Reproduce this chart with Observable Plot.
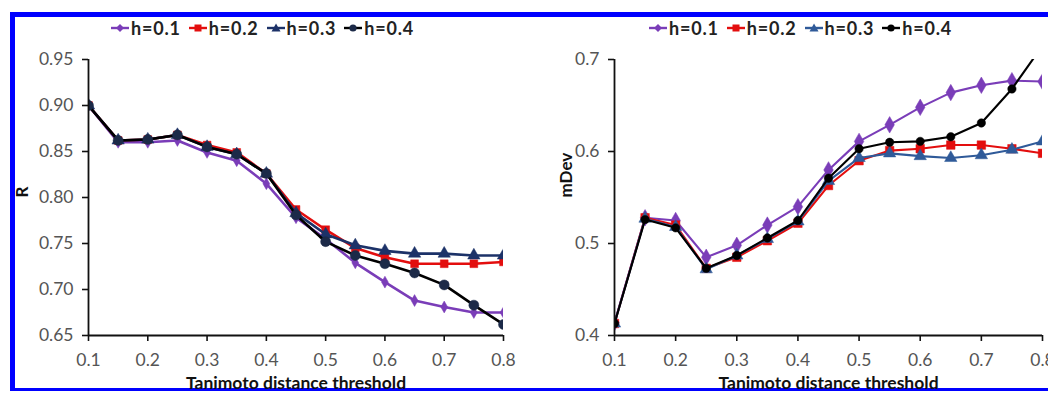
<!DOCTYPE html>
<html>
<head>
<meta charset="utf-8">
<script src="https://cdn.jsdelivr.net/npm/d3@7"></script>
<script src="https://cdn.jsdelivr.net/npm/@observablehq/plot@0.6"></script>
<style>
  html, body { margin:0; padding:0; background:#fff; }
  body { width:1048px; height:394px; overflow:hidden; position:relative; font-family: Lato, "Open Sans", sans-serif; }
  .frame { position:absolute; left:10px; top:12px; width:1100px; height:379px; border-left:5px solid #0000ff; border-top:5px solid #0000ff; border-bottom:3px solid #0000ff; box-sizing:border-box; }
  .panel { position:absolute; top:40px; }
  .panel svg { max-width:none !important; }
  .legend { position:absolute; top:17px; display:flex; align-items:center; font-weight:bold; font-size:18px; letter-spacing:0.8px; color:#222; white-space:nowrap; }
  .legend .item { display:flex; align-items:center; margin-right:8px; }
  .legend svg { margin-right:2px; }
</style>
</head>
<body>
<div class="frame"></div>
<div id="legL" class="legend" style="left:111px"></div>
<div id="legR" class="legend" style="left:649px"></div>
<div id="left" class="panel" style="left:0px"></div>
<div id="right" class="panel" style="left:524px"></div>
<script>
// ---- data ----
const thresholds = [0.1, 0.15, 0.2, 0.25, 0.3, 0.35, 0.4, 0.45, 0.5, 0.55, 0.6, 0.65, 0.7, 0.75, 0.8];
const seriesNames = ["h=0.1", "h=0.2", "h=0.3", "h=0.4"];

const R_h01 = [0.900, 0.860, 0.860, 0.862, 0.849, 0.840, 0.815, 0.778, 0.755, 0.729, 0.708, 0.688, 0.681, 0.675, 0.675];
const R_h02 = [0.900, 0.862, 0.863, 0.868, 0.857, 0.849, 0.826, 0.787, 0.765, 0.745, 0.735, 0.728, 0.728, 0.728, 0.730];
const R_h03 = [0.900, 0.862, 0.863, 0.868, 0.855, 0.847, 0.826, 0.783, 0.760, 0.748, 0.742, 0.739, 0.739, 0.737, 0.737];
const R_h04 = [0.900, 0.862, 0.863, 0.868, 0.855, 0.847, 0.826, 0.781, 0.752, 0.737, 0.728, 0.718, 0.705, 0.683, 0.662];

const mDev_h01 = [0.414, 0.528, 0.525, 0.485, 0.498, 0.520, 0.540, 0.580, 0.611, 0.629, 0.648, 0.664, 0.672, 0.677, 0.676];
const mDev_h02 = [0.413, 0.528, 0.520, 0.473, 0.485, 0.503, 0.522, 0.563, 0.590, 0.601, 0.603, 0.607, 0.607, 0.603, 0.598];
const mDev_h03 = [0.413, 0.527, 0.518, 0.472, 0.487, 0.505, 0.524, 0.568, 0.593, 0.598, 0.595, 0.593, 0.596, 0.602, 0.611];
const mDev_h04 = [0.413, 0.526, 0.517, 0.473, 0.487, 0.506, 0.525, 0.571, 0.603, 0.610, 0.611, 0.616, 0.631, 0.668, 0.715];

const xTicks = [0.1, 0.2, 0.3, 0.4, 0.5, 0.6, 0.7, 0.8];
const rTicks = [0.65, 0.70, 0.75, 0.80, 0.85, 0.90, 0.95];
const mDevTicks = [0.4, 0.5, 0.6, 0.7];

const xTitle = "Tanimoto distance threshold";
const rTitle = "R";
const mDevTitle = "mDev";

// ---- styles ----
const symbols = ["diamond", "square", "triangle", "circle"];
const leftLine = ["#7a3db8", "#e30e0e", "#1c3268", "#000000"];
const leftFill = ["#7a3db8", "#e30e0e", "#1c3268", "#1c2a48"];
const leftR = [3.6, 4.4, 4.6, 5.0];
const rightLine = ["#7a3db8", "#e30e0e", "#2f5a99", "#000000"];
const rightFill = ["#7a3db8", "#e30e0e", "#2f5a99", "#000000"];
const rightR = [5.0, 4.8, 4.6, 4.2];

function rows(arrs) {
  const out = [];
  arrs.forEach((arr, si) => arr.forEach((v, i) => out.push({x: thresholds[i], y: v, s: si})));
  return out;
}

function panel({data, yDomain, yTicks, yFmt, title, lineCols, fillCols, rs, width, marginRight, marginLeft, sw, titleDx}) {
  const marks = [];
  for (let si = 0; si < seriesNames.length; si++) {
    const d = data.filter(r => r.s === si);
    marks.push(Plot.line(d, {x: "x", y: "y", stroke: lineCols[si], strokeWidth: sw, clip: true}));
    marks.push(Plot.dot(d, {x: "x", y: "y", symbol: () => symbols[si], r: rs[si], fill: fillCols[si], stroke: fillCols[si], strokeWidth: 0.5, clip: true}));
  }
  marks.push(Plot.axisX(xTicks, {tickSize: 6, tickPadding: 12, tickFormat: d3.format(".1f"), fill: "#555", stroke: "#111", strokeWidth: 1.6, fontSize: 17.5, label: null}));
  marks.push(Plot.axisY(yTicks, {tickSize: 6, tickPadding: 9, tickFormat: d3.format(yFmt), fill: "#555", stroke: "#111", strokeWidth: 1.6, fontSize: 17.5, label: null}));
  marks.push(Plot.ruleY([yDomain[0]], {stroke: "#111", strokeWidth: 1.8}));
  marks.push(Plot.ruleX([0.1], {stroke: "#111", strokeWidth: 1.8}));
  marks.push(Plot.text([xTitle], {frameAnchor: "bottom", dy: 53, text: d => d, fontWeight: "bold", fontSize: 17.5, fill: "#111"}));
  marks.push(Plot.text([title], {frameAnchor: "left", dx: titleDx, rotate: -90, text: d => d, fontWeight: "bold", fontSize: 17, fill: "#111"}));
  return Plot.plot({
    width, height: 354,
    marginTop: 19, marginBottom: 59, marginLeft, marginRight,
    style: {fontFamily: "Lato, 'Open Sans', sans-serif", background: "transparent", overflow: "visible", maxWidth: "none"},
    x: {domain: [0.1, 0.8]},
    y: {domain: yDomain},
    marks
  });
}

document.getElementById("left").append(panel({
  data: rows([R_h01, R_h02, R_h03, R_h04]), yDomain: [0.65, 0.95], yTicks: rTicks, yFmt: ".2f",
  title: rTitle, lineCols: leftLine, fillCols: leftFill, rs: leftR,
  width: 524, marginLeft: 88, marginRight: 21, sw: 2.6, titleDx: -66
}));
document.getElementById("right").append(panel({
  data: rows([mDev_h01, mDev_h02, mDev_h03, mDev_h04]), yDomain: [0.4, 0.7], yTicks: mDevTicks, yFmt: ".1f",
  title: mDevTitle, lineCols: rightLine, fillCols: rightFill, rs: rightR,
  width: 560, marginLeft: 90, marginRight: 42, sw: 2.1, titleDx: -48
}));

// ---- legends ----
const symPaths = {
  diamond: "M9,2 L13,6 L9,10 L5,6 Z",
  square: "M5.5,2.5 H12.5 V9.5 H5.5 Z",
  triangle: "M9,1.5 L13.5,9.5 H4.5 Z",
  circle: null
};
function legend(id, lineCols, fillCols) {
  const el = document.getElementById(id);
  seriesNames.forEach((name, i) => {
    const item = document.createElement("div");
    item.className = "item";
    const sym = symbols[i];
    const shape = sym === "circle"
      ? `<circle cx="9" cy="6" r="3.6" fill="${fillCols[i]}"/>`
      : `<path d="${symPaths[sym]}" fill="${fillCols[i]}"/>`;
    item.innerHTML = `<svg width="18" height="12"><line x1="0" y1="6" x2="18" y2="6" stroke="${lineCols[i]}" stroke-width="2.4"/>${shape}</svg><span>${name}</span>`;
    el.append(item);
  });
}
legend("legL", leftLine, leftFill);
legend("legR", rightLine, rightFill);
</script>
</body>
</html>
